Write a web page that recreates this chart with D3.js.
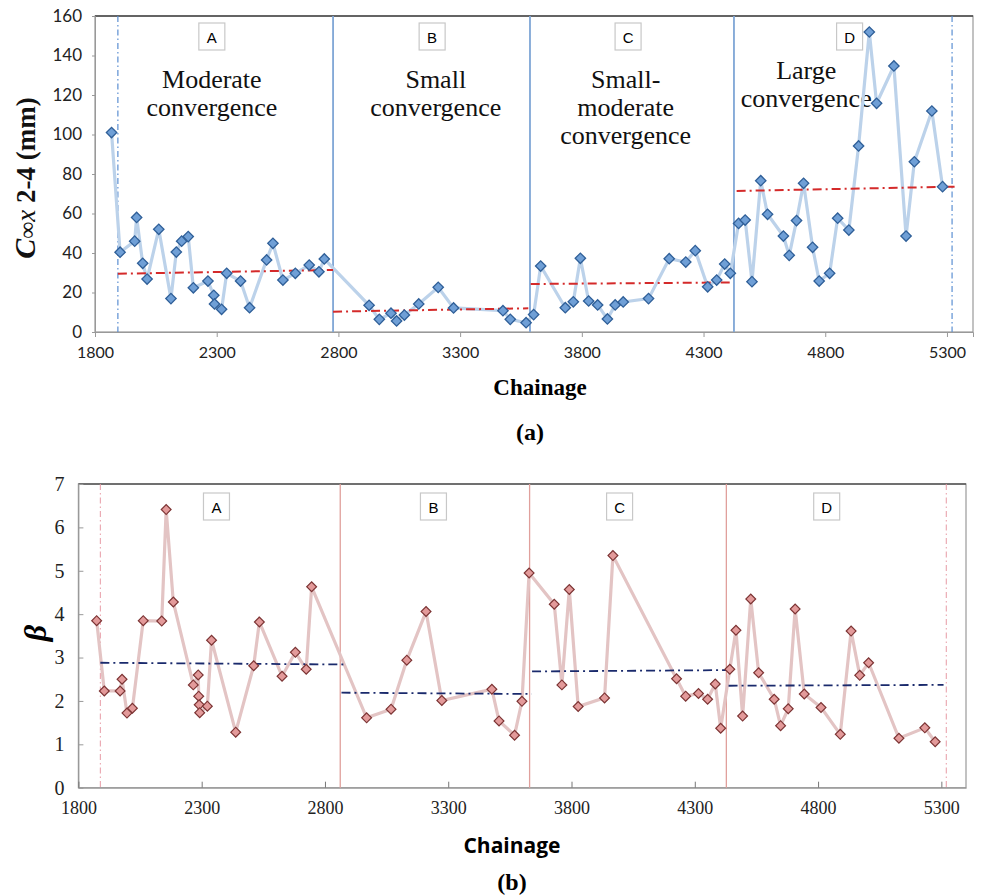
<!DOCTYPE html>
<html>
<head>
<meta charset="utf-8">
<script src="https://cdn.jsdelivr.net/npm/d3@7"></script>
<style>
  body { margin: 0; background: #fff; }
  svg { display: block; }
</style>
</head>
<body>
<svg id="chart" width="982" height="895"></svg>
<script>
// ---- data: panel (a) convergence ----
const convChainage = [1868, 1903, 1963, 1971, 1996, 2014, 2062, 2112, 2134, 2156, 2183, 2204, 2264, 2288, 2291, 2320, 2341, 2398, 2435, 2505, 2531, 2572, 2623, 2680, 2720, 2742,
  2926, 2968, 3016, 3039, 3071, 3130, 3210, 3273, 3476, 3506, 3571,
  3602, 3631, 3732, 3765, 3794, 3828, 3865, 3905, 3937, 3970, 4074, 4159, 4227, 4266, 4317, 4354, 4387, 4410,
  4444, 4471, 4499, 4535, 4563, 4628, 4652, 4682, 4711, 4748, 4775, 4818, 4851, 4897, 4937, 4981, 5011, 5082, 5132, 5166, 5238, 5282];
const convValues = [101, 40.4, 46, 58, 34.8, 26.8, 52, 16.9, 40.5, 46, 48.3, 22.4, 25.8, 18.6, 14.2, 11.5, 29.7, 25.8, 12.3, 36.5, 44.9, 26.3, 29.7, 33.9, 30.5, 37,
  13.5, 6.4, 9.5, 5.6, 8.6, 14.2, 22.6, 12.2, 10.8, 6.4, 4.7,
  8.8, 33.4, 12.3, 15.3, 37.3, 15.7, 13.7, 6.6, 13.7, 15.2, 16.9, 37.1, 35.4, 41.2, 22.9, 26.3, 34.4, 29.7,
  55, 56.7, 25.5, 76.6, 59.6, 48.6, 38.8, 56.4, 75.3, 42.9, 25.8, 29.7, 57.6, 51.6, 94.2, 151.9, 115.8, 134.7, 48.6, 86.2, 111.9, 73.6];
const convBounds = [1894, 2778, 3587, 4425, 5321];
const convTrends = [
  { x1: 1894, y1: 29.5, x2: 2778, y2: 31.4 },
  { x1: 2778, y1: 10.3, x2: 3580, y2: 12.0 },
  { x1: 3590, y1: 24.3, x2: 4408, y2: 25.1 },
  { x1: 4436, y1: 71.4, x2: 5333, y2: 73.6 }
];
const convYTicks = [0, 20, 40, 60, 80, 100, 120, 140, 160];
const zoneLetters = ["A", "B", "C", "D"];
const convBoxAt = [2280, 3185, 3990, 4900];
const convZoneText = [
  { at: 2280, lines: ["Moderate", "convergence"], top: 140 },
  { at: 3200, lines: ["Small", "convergence"], top: 140 },
  { at: 3980, lines: ["Small-", "moderate", "convergence"], top: 140 },
  { at: 4722, lines: ["Large", "convergence"], top: 131 }
];

// ---- data: panel (b) beta ----
const betaChainage = [1874, 1905, 1969, 1977, 1997, 2019, 2063, 2138, 2156, 2185, 2266, 2286, 2288, 2290, 2292, 2323, 2340, 2438, 2511, 2534, 2626, 2680, 2724, 2746,
  2969, 3068, 3132, 3210, 3274, 3477, 3506, 3569, 3599,
  3628, 3730, 3761, 3791, 3827, 3934, 3968, 4226, 4263, 4315, 4352, 4383, 4405,
  4442, 4467, 4494, 4527, 4559, 4622, 4648, 4679, 4707, 4744, 4812, 4890, 4934, 4969, 5005, 5128, 5233, 5275];
const betaValues = [3.85, 2.23, 2.23, 2.5, 1.72, 1.83, 3.85, 3.84, 6.41, 4.28, 2.37, 2.6, 2.11, 1.91, 1.73, 1.88, 3.4, 1.28, 2.81, 3.82, 2.57, 3.12, 2.73, 4.63,
  1.61, 1.81, 2.94, 4.06, 2.01, 2.27, 1.54, 1.21, 1.99,
  4.95, 4.23, 2.37, 4.57, 1.87, 2.07, 5.35, 2.51, 2.11, 2.17, 2.04, 2.39, 1.37,
  2.73, 3.63, 1.65, 4.35, 2.65, 2.04, 1.43, 1.82, 4.12, 2.16, 1.85, 1.23, 3.61, 2.59, 2.88, 1.14, 1.38, 1.06];
const betaBounds = [1889, 2862, 3630, 4428, 5320];
const betaTrends = [
  { x1: 1889, y1: 2.88, x2: 2875, y2: 2.84 },
  { x1: 2867, y1: 2.19, x2: 3638, y2: 2.16 },
  { x1: 3640, y1: 2.68, x2: 4428, y2: 2.71 },
  { x1: 4437, y1: 2.35, x2: 5309, y2: 2.37 }
];
const betaYTicks = [0, 1, 2, 3, 4, 5, 6, 7];
const betaBoxAt = [2360, 3240, 3995, 4835];

const xTicks = [1800, 2300, 2800, 3300, 3800, 4300, 4800, 5300];

const svg = d3.select("#chart");
const serif = "'Liberation Serif', 'Times New Roman', serif";
const sans = "Lato, 'Open Sans', sans-serif";

function zoneBox(g, x, y, letter) {
  g.append("rect")
    .attr("x", x - 13).attr("y", y - 14)
    .attr("width", 26).attr("height", 27)
    .attr("fill", "#fff").attr("stroke", "#c8c8c8").attr("stroke-width", 1.2);
  g.append("text")
    .attr("x", x).attr("y", y + 6)
    .attr("text-anchor", "middle")
    .style("font-family", "'Liberation Sans', Arial, sans-serif")
    .style("font-size", "15px")
    .text(letter);
}

// ================= panel (a) =================
{
  const x = d3.scaleLinear().domain([1800, 5407]).range([95, 973]);
  const y = d3.scaleLinear().domain([0, 160]).range([332, 16]);
  const g = svg.append("g");

  // frame
  g.append("rect").attr("x", 95).attr("y", 16).attr("width", 878).attr("height", 316)
    .attr("fill", "none").attr("stroke", "#999").attr("stroke-width", 1.2);
  g.append("line").attr("x1", 95).attr("x2", 973).attr("y1", 16).attr("y2", 16)
    .attr("stroke", "#444").attr("stroke-width", 1.5);

  // y axis
  const ya = g.append("g").attr("transform", "translate(95,0)")
    .call(d3.axisLeft(y).tickValues(convYTicks).tickSize(3).tickPadding(10));
  ya.select(".domain").attr("stroke", "#999");
  ya.selectAll(".tick line").attr("stroke", "#999");
  ya.selectAll("text").style("font-family", sans).style("font-size", "17px").attr("fill", "#222");

  // x axis
  const xa = g.append("g").attr("transform", "translate(0,332)")
    .call(d3.axisBottom(x).tickValues(xTicks).tickSize(5).tickPadding(10).tickFormat(d3.format("d")));
  xa.select(".domain").attr("stroke", "#999");
  xa.selectAll(".tick line").attr("stroke", "#999");
  xa.selectAll("text").style("font-family", sans).style("font-size", "16px").attr("fill", "#222");

  // zone boundaries
  convBounds.forEach((b, i) => {
    const edge = i === 0 || i === convBounds.length - 1;
    g.append("line").attr("x1", x(b)).attr("x2", x(b)).attr("y1", 16).attr("y2", 332)
      .attr("stroke", edge ? "#5b8fd2" : "#7fa6d6")
      .attr("stroke-width", edge ? 1.2 : 1.8)
      .attr("stroke-dasharray", edge ? "6,3,1.5,3" : null);
  });

  // zone labels
  convBoxAt.forEach((c, i) => zoneBox(g, x(c), 37, zoneLetters[i]));
  convZoneText.forEach((z) => {
    z.lines.forEach((t, j) => {
      g.append("text").attr("x", x(z.at)).attr("y", 88 + j * 28 + (z.top - 140))
        .attr("text-anchor", "middle")
        .style("font-family", serif).style("font-size", "26px").attr("fill", "#111")
        .text(t);
    });
  });

  // series line
  const pts = convChainage.map((c, i) => [c, convValues[i]]);
  g.append("path").datum(pts)
    .attr("fill", "none").attr("stroke", "#bcd2ea").attr("stroke-width", 3.2)
    .attr("d", d3.line().x((d) => x(d[0])).y((d) => y(d[1])));

  // trend lines
  g.selectAll(".trendA").data(convTrends).enter().append("line")
    .attr("x1", (d) => x(d.x1)).attr("x2", (d) => x(d.x2))
    .attr("y1", (d) => y(d.y1)).attr("y2", (d) => y(d.y2))
    .attr("stroke", "#d42a2a").attr("stroke-width", 2)
    .attr("stroke-dasharray", "9,4,2,4");

  // markers
  g.selectAll(".ptA").data(pts).enter().append("path")
    .attr("transform", (d) => `translate(${x(d[0])},${y(d[1])}) rotate(45)`)
    .attr("d", d3.symbol().type(d3.symbolSquare).size(54))
    .attr("fill", "#6f9fd6").attr("stroke", "#2f5f98").attr("stroke-width", 1.3);

  // axis titles
  const yt = g.append("text")
    .attr("transform", "translate(35,178) rotate(-90)")
    .attr("text-anchor", "middle")
    .style("font-family", serif).style("font-size", "27px").style("font-weight", "bold").attr("fill", "#111");
  yt.append("tspan").style("font-style", "italic").style("font-size", "30px").text("C");
  yt.append("tspan").style("font-weight", "normal").style("font-size", "24px").text("\u221E");
  yt.append("tspan").style("font-style", "italic").style("font-weight", "normal").text("x");
  yt.append("tspan").text(" 2-4 (mm)");

  g.append("text").attr("x", 540).attr("y", 395).attr("text-anchor", "middle")
    .style("font-family", serif).style("font-size", "23px").style("font-weight", "bold")
    .text("Chainage");
  g.append("text").attr("x", 530).attr("y", 440).attr("text-anchor", "middle")
    .style("font-family", serif).style("font-size", "24px").style("font-weight", "bold")
    .text("(a)");
}

// ================= panel (b) =================
{
  const x = d3.scaleLinear().domain([1800, 5400]).range([78.4, 966]);
  const y = d3.scaleLinear().domain([0, 7]).range([787.7, 484]);
  const g = svg.append("g");

  g.append("rect").attr("x", 78.4).attr("y", 484).attr("width", 887.6).attr("height", 303.7)
    .attr("fill", "none").attr("stroke", "#999").attr("stroke-width", 1.2);
  g.append("line").attr("x1", 78.4).attr("x2", 966).attr("y1", 484).attr("y2", 484)
    .attr("stroke", "#555").attr("stroke-width", 1.3);

  const ya = g.append("g").attr("transform", "translate(78.4,0)")
    .call(d3.axisLeft(y).tickValues(betaYTicks).tickSizeInner(-5).tickSizeOuter(0).tickPadding(14).tickFormat(d3.format("d")));
  ya.select(".domain").attr("stroke", "#999");
  ya.selectAll(".tick line").attr("stroke", "#999");
  ya.selectAll("text").style("font-family", serif).style("font-size", "20px").attr("fill", "#222");

  const xa = g.append("g").attr("transform", "translate(0,787.7)")
    .call(d3.axisBottom(x).tickValues(xTicks).tickSizeInner(-6).tickSizeOuter(0).tickPadding(14).tickFormat(d3.format("d")));
  xa.select(".domain").attr("stroke", "#999");
  xa.selectAll(".tick line").attr("stroke", "#777");
  xa.selectAll("text").style("font-family", serif).style("font-size", "18px").attr("fill", "#222");

  betaBounds.forEach((b, i) => {
    const edge = i === 0 || i === betaBounds.length - 1;
    g.append("line").attr("x1", x(b)).attr("x2", x(b)).attr("y1", 484).attr("y2", 787.7)
      .attr("stroke", edge ? "#e79aa5" : "#e0a09c")
      .attr("stroke-width", edge ? 1 : 1.3)
      .attr("stroke-dasharray", edge ? "6,3,1.5,3" : null);
  });

  betaBoxAt.forEach((c, i) => zoneBox(g, x(c), 507, zoneLetters[i]));

  const pts = betaChainage.map((c, i) => [c, betaValues[i]]);
  g.append("path").datum(pts)
    .attr("fill", "none").attr("stroke", "#e3c4c4").attr("stroke-width", 3.2)
    .attr("d", d3.line().x((d) => x(d[0])).y((d) => y(d[1])));

  g.selectAll(".trendB").data(betaTrends).enter().append("line")
    .attr("x1", (d) => x(d.x1)).attr("x2", (d) => x(d.x2))
    .attr("y1", (d) => y(d.y1)).attr("y2", (d) => y(d.y2))
    .attr("stroke", "#1a2a6c").attr("stroke-width", 1.8)
    .attr("stroke-dasharray", "9,4,2,4");

  g.selectAll(".ptB").data(pts).enter().append("path")
    .attr("transform", (d) => `translate(${x(d[0])},${y(d[1])}) rotate(45)`)
    .attr("d", d3.symbol().type(d3.symbolSquare).size(48))
    .attr("fill", "#e39a9a").attr("stroke", "#7c3434").attr("stroke-width", 1.2);

  g.append("text").attr("transform", "translate(46,633) rotate(-90)").attr("text-anchor", "middle")
    .style("font-family", serif).style("font-size", "32px").style("font-weight", "bold").style("font-style", "italic")
    .text("\u03B2");

  g.append("text").attr("x", 512).attr("y", 853).attr("text-anchor", "middle")
    .style("font-family", "'Open Sans', sans-serif").style("font-size", "21px").style("font-weight", "bold")
    .text("Chainage");
  g.append("text").attr("x", 512).attr("y", 890).attr("text-anchor", "middle")
    .style("font-family", serif).style("font-size", "24px").style("font-weight", "bold")
    .text("(b)");
}
</script>
</body>
</html>
